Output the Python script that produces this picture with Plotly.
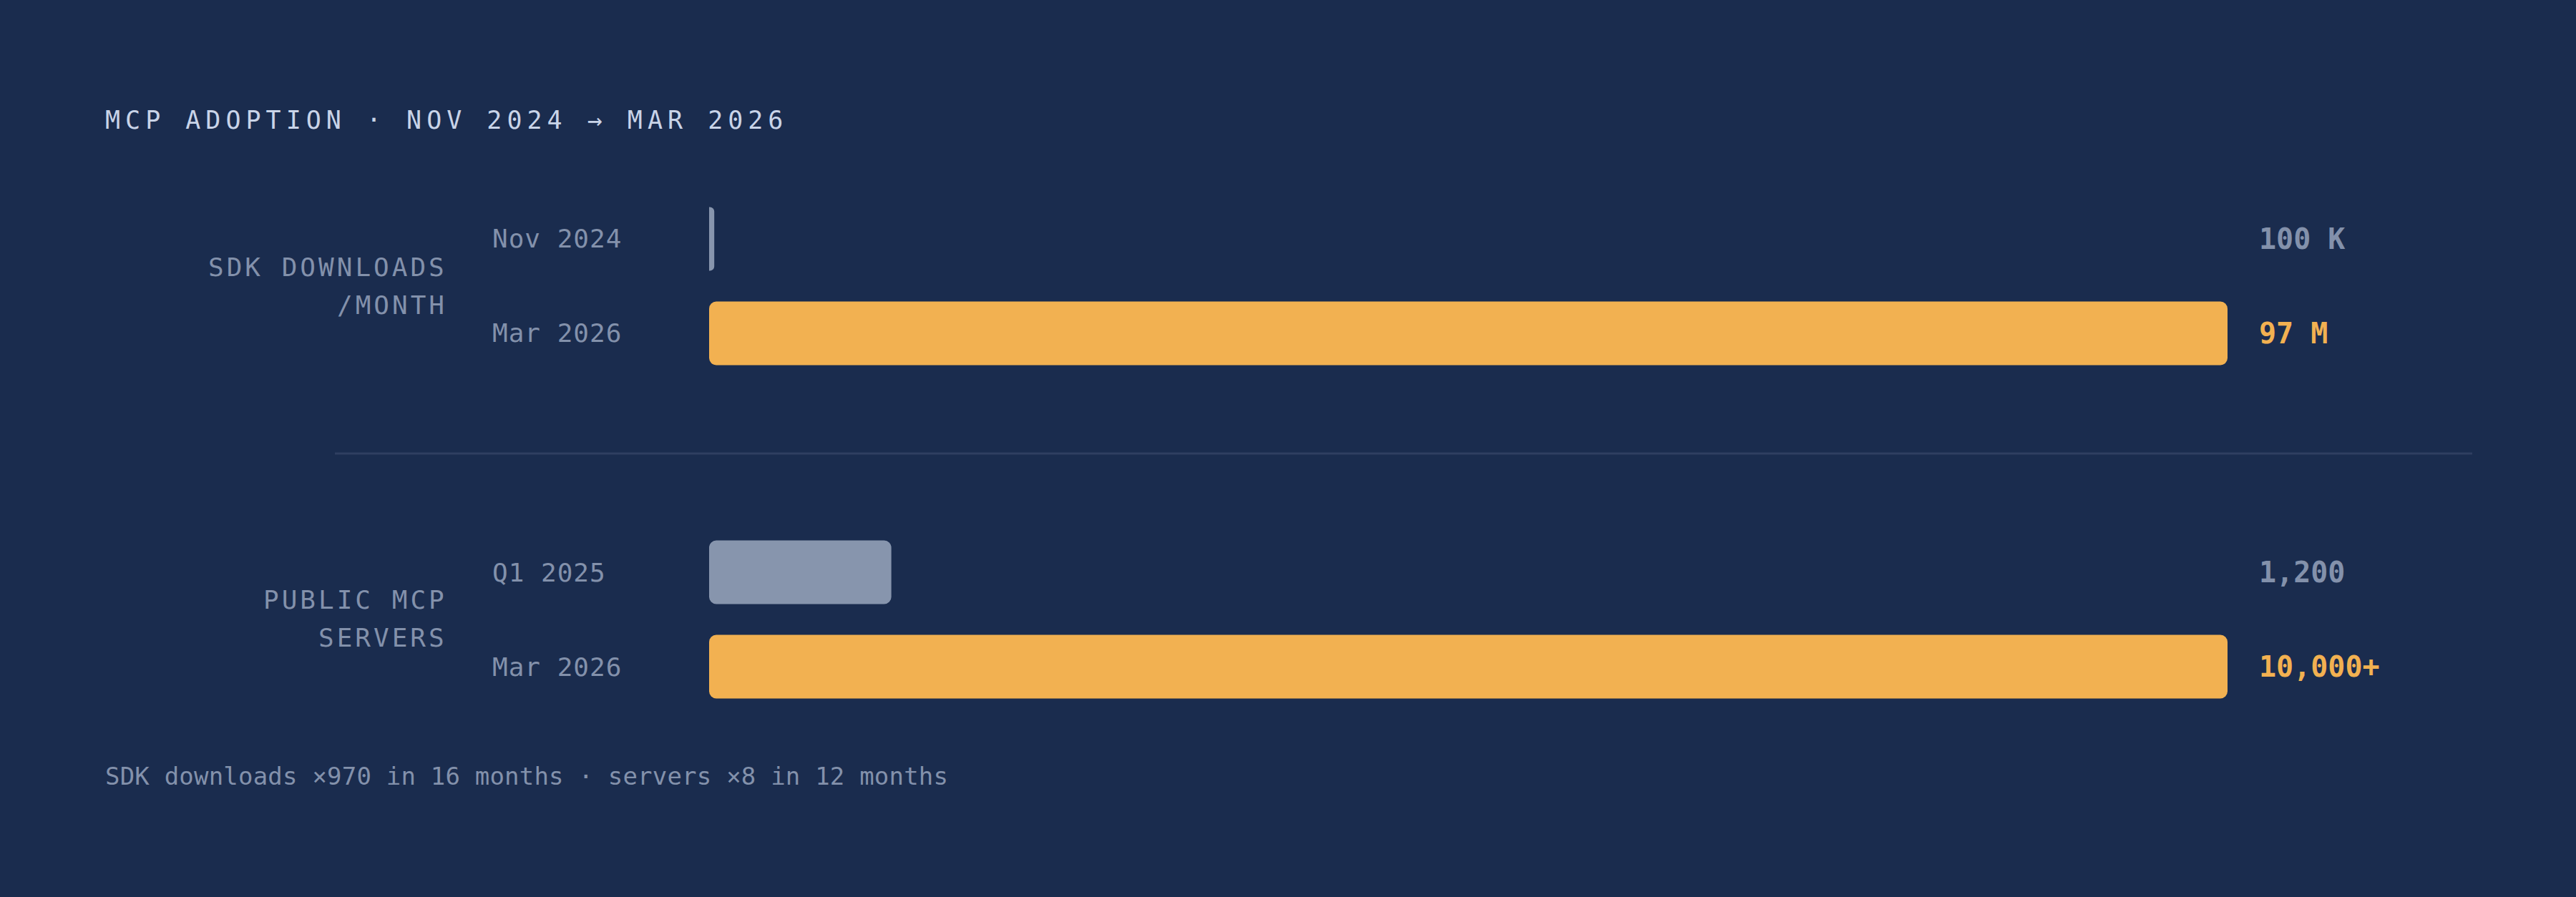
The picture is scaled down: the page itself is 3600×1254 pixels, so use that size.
import plotly.graph_objects as go

# ---- data ----
title_text = "MCP ADOPTION · NOV 2024 → MAR 2026"
footnote_text = "SDK downloads ×970 in 16 months · servers ×8 in 12 months"

dl_group = ["SDK DOWNLOADS", "/MONTH"]
dl_periods = ["Nov 2024", "Mar 2026"]
dl_values = [100_000, 97_000_000]
dl_labels = ["100 K", "97 M"]

srv_group = ["PUBLIC MCP", "SERVERS"]
srv_periods = ["Q1 2025", "Mar 2026"]
srv_values = [1_200, 10_000]
srv_labels = ["1,200", "10,000+"]

# ---- style ----
W, H = 3600, 1254
BG = "#1a2c4e"
ORANGE = "#f2b151"
GREY_BAR = "#8795ad"
GREY_TXT = "#8391ab"
TITLE_C = "#c9d4e8"
RULE = "#2f3f61"
MONO = "DejaVu Sans Mono"

def px_x(p):
    return p / W

def px_y(p):
    return 1 - p / H

def spaced(t, ls):
    return f'<span style="letter-spacing:{ls}px">{t}</span>'

bar_colors = [GREY_BAR, ORANGE]
label_colors = [GREY_TXT, ORANGE]

fig = go.Figure()

sections = [
    ("x", "y", dl_periods, dl_values, dl_labels, dl_group),
    ("x2", "y2", srv_periods, srv_values, srv_labels, srv_group),
]

for xa, ya, periods, values, labels, group in sections:
    for i, (p, v) in enumerate(zip(periods, values)):
        small = v / max(values) < 0.01
        # explicit base -> both ends of the bar get rounded corners;
        # a tiny value gets an outline in its own colour so it stays visible
        fig.add_trace(go.Bar(
            x=[v], base=[0], y=[p], orientation="h",
            xaxis=xa, yaxis=ya,
            marker=dict(
                color=bar_colors[i],
                cornerradius=10,
                line=dict(color=bar_colors[i], width=10 if small else 0),
            ),
            width=0.6 if small else 0.674,
            cliponaxis=False,
            hoverinfo="skip", showlegend=False,
        ))

annotations = []
for xa, ya, periods, values, labels, group in sections:
    for i, (p, lab) in enumerate(zip(periods, labels)):
        annotations.append(dict(
            xref="paper", yref=ya, x=px_x(686), y=p, xanchor="left", yanchor="middle",
            text=spaced(p, 1), showarrow=False,
            font=dict(family=MONO, size=36, color=GREY_TXT),
        ))
        annotations.append(dict(
            xref="paper", yref=ya, x=px_x(3155), y=p, xanchor="left", yanchor="middle",
            text=f"<b>{lab}</b>", showarrow=False,
            font=dict(family=MONO, size=40, color=label_colors[i]),
        ))

group_rows = [(dl_group, [373.5, 426.5]), (srv_group, [838, 891])]
for lines_, ys in group_rows:
    for line, yy in zip(lines_, ys):
        annotations.append(dict(
            xref="paper", yref="paper", x=px_x(627), y=px_y(yy),
            xanchor="right", yanchor="middle",
            text=spaced(line, 4), showarrow=False,
            font=dict(family=MONO, size=36, color=GREY_TXT),
        ))

annotations.append(dict(
    xref="paper", yref="paper", x=px_x(145), y=px_y(168),
    xanchor="left", yanchor="middle", text=spaced(title_text, 7), showarrow=False,
    font=dict(family=MONO, size=35, color=TITLE_C),
))
annotations.append(dict(
    xref="paper", yref="paper", x=px_x(145), y=px_y(1085),
    xanchor="left", yanchor="middle", text=spaced(footnote_text, 0.2), showarrow=False,
    font=dict(family=MONO, size=34, color=GREY_TXT),
))

xdom = [px_x(991), px_x(3113)]
ax_common = dict(showgrid=False, zeroline=False, showticklabels=False, ticks="",
                 showline=False, fixedrange=True)

fig.update_layout(
    width=W, height=H,
    margin=dict(l=0, r=0, t=0, b=0),
    paper_bgcolor=BG, plot_bgcolor=BG,
    barmode="overlay",
    xaxis=dict(domain=xdom, range=[0, max(dl_values)], anchor="y", **ax_common),
    xaxis2=dict(domain=xdom, range=[0, max(srv_values)], anchor="y2", **ax_common),
    yaxis=dict(domain=[px_y(532), px_y(268)], anchor="x", autorange="reversed",
               type="category", categoryorder="array", categoryarray=dl_periods,
               **ax_common),
    yaxis2=dict(domain=[px_y(998), px_y(734)], anchor="x2", autorange="reversed",
                type="category", categoryorder="array", categoryarray=srv_periods,
                **ax_common),
    annotations=annotations,
    shapes=[dict(type="line", xref="paper", yref="paper",
                 x0=px_x(468), x1=px_x(3455), y0=px_y(634), y1=px_y(634),
                 line=dict(color=RULE, width=3))],
)

fig.write_html(
    "out.html",
    config={"displayModeBar": False},
    post_script="document.body.style.margin='0';document.body.style.overflow='hidden';"
                "document.body.style.background='" + BG + "';",
)
